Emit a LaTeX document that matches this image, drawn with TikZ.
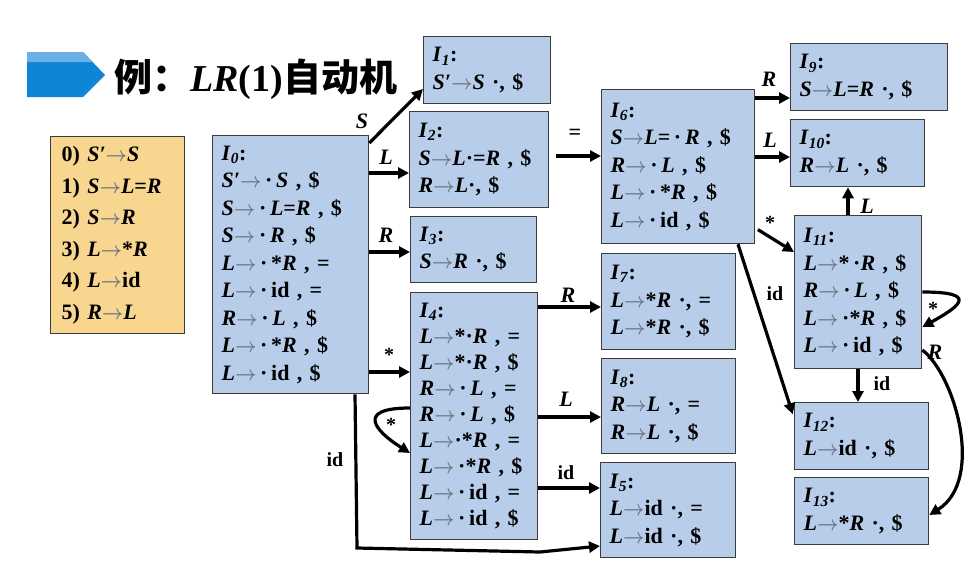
\documentclass[tikz,border=0pt]{standalone}
\usepackage{fontspec}
\setmainfont{Liberation Serif}
\newfontfamily\cjk{Noto Sans CJK SC}
\usetikzlibrary{arrows.meta}
\definecolor{boxblue}{HTML}{B7CDEA}
\definecolor{boxline}{HTML}{3C3C3C}
\definecolor{gramfill}{HTML}{F9D68F}
\definecolor{bannerblue}{HTML}{0F86D5}
\definecolor{bannerlight}{HTML}{6AB0E4}
\definecolor{arrgray}{HTML}{6F7887}
\newcommand\V[1]{\textit{#1}}
\newcommand\ra{\textcolor{arrgray}{\scalebox{0.9}[1]{\boldmath$\rightarrow$}}}
\newcommand\Iset[1]{\V{I}\textsubscript{\V{#1}}:}
\tikzset{
  item/.style={draw=boxline, fill=boxblue, line width=1.3pt, anchor=north west,
    align=left, inner xsep=9pt, inner ysep=0pt, font=\fontsize{22}{27.5}\selectfont\bfseries},
  gram/.style={item, fill=gramfill, inner xsep=11pt, font=\fontsize{22}{31.6}\selectfont\bfseries},
  trans/.style={line width=3.2pt, -{Triangle[length=11pt,width=11pt]}},
  lbl/.style={inner sep=0pt, font=\fontsize{22}{22}\selectfont\bfseries\itshape},
  sym/.style={inner sep=0pt, font=\fontsize{20}{20}\selectfont\bfseries},
}
\begin{document}
\begin{tikzpicture}[x=1pt, y=-1pt]
\useasboundingbox (0,0) rectangle (977,579);
\fill[bannerblue] (27,52) -- (83,52) -- (105,75) -- (83,97) -- (27,97) -- cycle;
\fill[bannerlight] (27,52) -- (83,52) -- (93,62) -- (27,62) -- cycle;
\node[anchor=west, inner sep=0pt, font=\fontsize{38}{38}\selectfont] (title) at (114,79)
  {\cjk\bfseries 例：{\rmfamily\bfseries\itshape LR}{\rmfamily\bfseries(1)}自动机};

\node[gram, minimum width=134pt, text width=112pt, minimum height=197pt] (G) at (50,136)
  {0) \V{S′}\ra\V{S}\\ 1) \V{S}\ra\V{L}=\V{R}\\ 2) \V{S}\ra\V{R}\\
   3) \V{L}\ra*\V{R}\\ 4) \V{L}\ra id\\ 5) \V{R}\ra\V{L}};

\node[item, text width=138pt, minimum height=258pt] (I0) at (212,135)
  {\Iset{0}\\ \V{S′}\ra\,·\,\V{S} , \$\\ \V{S}\ra\,·\,\V{L}=\V{R} , \$\\ \V{S}\ra\,·\,\V{R} , \$\\
   \V{L}\ra\,·\,*\V{R} , =\\ \V{L}\ra\,·\,id , =\\ \V{R}\ra\,·\,\V{L} , \$\\
   \V{L}\ra\,·\,*\V{R} , \$\\ \V{L}\ra\,·\,id , \$};
\node[item, text width=109pt, minimum height=67pt] (I1) at (423,36)
  {\Iset{1}\\ \V{S′}\ra\V{S}\ ·, \$};
\node[item, text width=121pt, minimum height=96pt] (I2) at (409,111)
  {\Iset{2}\\ \V{S}\ra\V{L}·=\V{R} , \$\\ \V{R}\ra\V{L}·, \$};
\node[item, text width=108pt, minimum height=66pt] (I3) at (410,216)
  {\Iset{3}\\ \V{S}\ra\V{R}\ ·, \$};
\node[item, text width=109pt, minimum height=247pt, font=\fontsize{22}{26}\selectfont\bfseries] (I4) at (410,292)
  {\Iset{4}\\ \V{L}\ra*·\V{R} , =\\ \V{L}\ra*·\V{R} , \$\\ \V{R}\ra\,·\,\V{L} , =\\
   \V{R}\ra\,·\,\V{L} , \$\\ \V{L}\ra·*\V{R} , =\\ \V{L}\ra\,·*\V{R} , \$\\
   \V{L}\ra\,·\,id , =\\ \V{L}\ra\,·\,id , \$};
\node[item, text width=117pt, minimum height=95pt] (I5) at (600,462)
  {\Iset{5}\\ \V{L}\ra id\ ·, =\\ \V{L}\ra id\ ·, \$};
\node[item, text width=135pt, minimum height=154pt] (I6) at (601,89)
  {\Iset{6}\\ \V{S}\ra\V{L}=\,·\,\V{R} , \$\\ \V{R}\ra\,·\,\V{L} , \$\\
   \V{L}\ra\,·\,*\V{R} , \$\\ \V{L}\ra\,·\,id , \$};
\node[item, text width=116pt, minimum height=96pt] (I7) at (601,253)
  {\Iset{7}\\ \V{L}\ra*\V{R}\ ·, =\\ \V{L}\ra*\V{R}\ ·, \$};
\node[item, text width=116pt, minimum height=95pt] (I8) at (601,358)
  {\Iset{8}\\ \V{R}\ra\V{L}\ ·, =\\ \V{R}\ra\V{L}\ ·, \$};
\node[item, text width=139pt, minimum height=67pt] (I9) at (790,43)
  {\Iset{9}\\ \V{S}\ra\V{L}=\V{R}\ ·, \$};
\node[item, text width=116pt, minimum height=67pt] (I10) at (790,119)
  {\Iset{10}\\ \V{R}\ra\V{L}\ ·, \$};
\node[item, text width=109pt, minimum height=153pt] (I11) at (794,215)
  {\Iset{11}\\ \V{L}\ra*\,·\V{R} , \$\\ \V{R}\ra\,·\,\V{L} , \$\\
   \V{L}\ra\,·*\V{R} , \$\\ \V{L}\ra\,·\,id , \$};
\node[item, text width=116pt, minimum height=67pt] (I12) at (794,402)
  {\Iset{12}\\ \V{L}\ra id\ ·, \$};
\node[item, text width=116pt, minimum height=67pt] (I13) at (794,477)
  {\Iset{13}\\ \V{L}\ra*\V{R}\ ·, \$};

\draw[trans] ([yshift=-8pt]I0.north east) -- (I1.west |- 0,89);
\draw[trans] (I0.east |- 0,173) -- (I2.west |- 0,173);
\draw[trans] (I0.east |- 0,252) -- (I3.west |- 0,252);
\draw[trans] (I0.east |- 0,372) -- (I4.west |- 0,372);
\draw[trans] (I0.south -| 355,0) -- (357,548) -- (540,552) -- (I5.west |- 0,546);
\draw[trans, shorten <=7pt] (I2.east |- 0,156) -- (I6.west |- 0,156);
\draw[trans] (I4.west |- 0,408) .. controls +(-55,0) and +(-35,-22) .. (I4.west |- 0,453);
\draw[trans] (I4.east |- 0,307) -- (I7.west |- 0,307);
\draw[trans] (I4.east |- 0,417) -- (I8.west |- 0,417);
\draw[trans] (I4.east |- 0,488) -- (I5.west |- 0,488);
\draw[trans] (I6.east |- 0,98) -- (I9.west |- 0,98);
\draw[trans] (I6.east |- 0,157) -- (I10.west |- 0,157);
\draw[trans, shorten <=3pt] (I6.east |- 0,228) -- (I11.west |- 0,252);
\draw[trans, shorten >=4pt] (I6.south -| 738,0) -- (I12.west |- 0,418);
\draw[trans] (I11.north -| 848,0) -- (I10.south -| 848,0);
\draw[trans] (I11.south -| 858,0) -- (I12.north -| 858,0);
\draw[trans] (I11.east |- 0,292) .. controls +(55,0) and +(40,-22) .. (I11.east |- 0,327);
\draw[trans] (I11.east |- 0,350) .. controls (955,375) and (985,480) .. (I13.east |- 0,515);

\node[lbl] (tS) at (362,121) {S};
\node[lbl] (tL) at (386,157) {L};
\node[lbl] (tR) at (386,235) {R};
\node[sym] (tst) at (389,355) {*};
\node[sym] (tid) at (335,460) {id};
\node[sym, font=\fontsize{22}{22}\selectfont\bfseries] (teq) at (575,134) {=};
\node[sym] (tst4) at (391,425) {*};
\node[lbl] (tR4) at (568,295) {R};
\node[lbl] (tL4) at (566,399) {L};
\node[sym] (tid4) at (566,473) {id};
\node[lbl] (tR6) at (769,79) {R};
\node[lbl] (tL6) at (770,140) {L};
\node[sym] (tst6) at (770,223) {*};
\node[sym] (tid6) at (775,294) {id};
\node[lbl] (tL11) at (867,206) {L};
\node[sym] (tid11) at (882,384) {id};
\node[sym] (tst11) at (933,309) {*};
\node[lbl] (tR11) at (935,352) {R};
\end{tikzpicture}
\end{document}
